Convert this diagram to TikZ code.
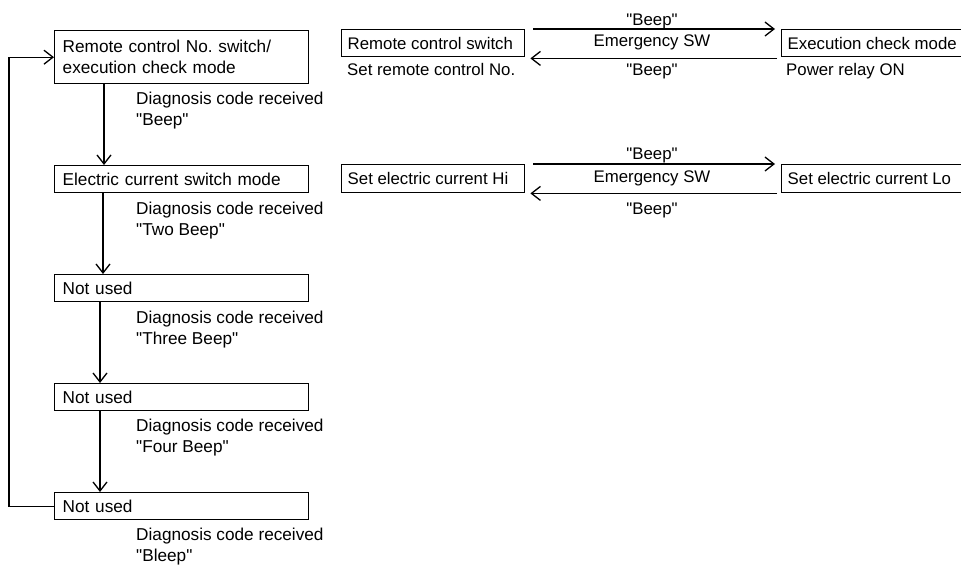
\documentclass[tikz,border=0pt]{standalone}
\usepackage{fontspec}
\setmainfont{Liberation Sans}[Ligatures=TeXOff]
\usetikzlibrary{arrows.meta}
\frenchspacing
\begin{document}
\begin{tikzpicture}[x=1pt,y=-1pt,
  font=\fontsize{17.2}{21}\selectfont,
  rfont/.style={font=\fontsize{16.8}{21}\selectfont},
  box/.style={draw, line width=1.4pt, inner xsep=8pt, inner ysep=0pt, align=left, anchor=north west},
  lbox/.style={box, text width=238pt, minimum height=27pt},
  rbox/.style={box, rfont, inner xsep=6pt, minimum height=27pt},
  lbl/.style={inner sep=0pt, anchor=west, text height=12.5pt, text depth=3.5pt},
  rlbl/.style={lbl, rfont},
  clbl/.style={lbl, rfont, anchor=center},
  dlbl/.style={inner sep=0pt, anchor=north west, align=left},
  arr/.style={line width=1.3pt, -{Straight Barb[length=9pt,width=14pt]}}]
\clip (0,0) rectangle (961,565);
% left column
\node[lbox, minimum height=53pt] (b1) at (54,30) {Remote control No. switch/\\execution check mode};
\node[lbox] (b2) at (54,165) {Electric current switch mode};
\node[lbox] (b3) at (54,274) {Not used};
\node[lbox] (b4) at (54,383) {Not used};
\node[lbox] (b5) at (54,492) {Not used};
\node[dlbl] (d1) at (136,92) {Diagnosis code received\\"Beep"};
\node[dlbl] (d2) at (136,202) {Diagnosis code received\\"Two Beep"};
\node[dlbl] (d3) at (136,311) {Diagnosis code received\\"Three Beep"};
\node[dlbl] (d4) at (136,419) {Diagnosis code received\\"Four Beep"};
\node[dlbl] (d5) at (136,528) {Diagnosis code received\\"Bleep"};
\draw[arr] ([xshift=50pt]b1.south west) -- ([xshift=50pt]b2.north west);
\draw[arr] ([xshift=49pt]b2.south west) -- ([xshift=49pt]b3.north west);
\draw[arr] ([xshift=46pt]b3.south west) -- ([xshift=46pt]b4.north west);
\draw[arr] ([xshift=46pt]b4.south west) -- ([xshift=46pt]b5.north west);
\draw[arr] (b5.west) -- ++(-45,0) |- (b1.west);
% right, row 1
\node[rbox] (rc) at (341,29) {\makebox[171pt][l]{Remote control switch}};
\node[rbox] (ex) at (781,29) {\makebox[190pt][l]{Execution check mode}};
\node[rlbl] (rcl) at (347,71) {Set remote control No.};
\node[rlbl] (exl) at (786,71) {Power relay ON};
\draw[arr] ([xshift=8pt]rc.north east) -- ([xshift=-6pt]ex.north west);
\draw[arr] ([xshift=-4pt,yshift=-1pt]ex.south west) -- ([xshift=5pt,yshift=-1pt]rc.south east);
\node[clbl] (t1) at (652,21) {"Beep"};
\node[clbl] (e1) at (652,42) {Emergency SW};
\node[clbl] (u1) at (652,71) {"Beep"};
% right, row 2
\node[rbox, minimum height=28pt] (hi) at (341,164) {\makebox[171pt][l]{Set electric current Hi}};
\node[rbox, minimum height=28pt] (lo) at (781,164) {\makebox[190pt][l]{Set electric current Lo}};
\draw[arr] ([xshift=8pt]hi.north east) -- ([xshift=-6pt]lo.north west);
\draw[arr] ([xshift=-4pt]lo.south west) -- ([xshift=5pt]hi.south east);
\node[clbl] (t2) at (652,155) {"Beep"};
\node[clbl] (e2) at (652,178) {Emergency SW};
\node[clbl] (u2) at (652,210) {"Beep"};
\end{tikzpicture}
\end{document}
